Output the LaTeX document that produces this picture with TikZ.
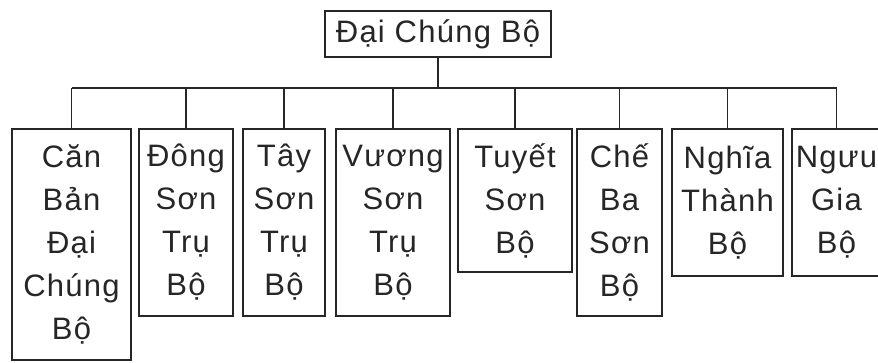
\documentclass[tikz,border=0pt]{standalone}
\usepackage{fontspec}
\setmainfont{Liberation Sans}[LetterSpace=4]
\begin{document}
\begin{tikzpicture}[x=1pt,y=-1pt,
  box/.style={draw=black!85, line width=1.5pt, inner xsep=0pt, inner ysep=0pt,
    align=center, font=\fontsize{31}{43}\selectfont, text=black!85},
  link/.style={draw=black!85, line width=1.5pt}]
\useasboundingbox[fill=white] (0,0) rectangle (878,362);
\clip (0,0) rectangle (878,362);
\node[box, minimum width=226, minimum height=46] (root) at (438,34) {Đại Chúng Bộ};
\node[box, minimum width=119, minimum height=231] (c1) at (71.5,244.5) {Căn\\Bản\\Đại\\Chúng\\Bộ};
\node[box, minimum width=94, minimum height=187] (c2) at (186,222.5) {Đông\\Sơn\\Trụ\\Bộ};
\node[box, minimum width=82, minimum height=187] (c3) at (284,222.5) {Tây\\Sơn\\Trụ\\Bộ};
\node[box, minimum width=114, minimum height=187] (c4) at (393,222.5) {Vương\\Sơn\\Trụ\\Bộ};
\node[box, minimum width=114, minimum height=143] (c5) at (515,200.5) {Tuyết\\Sơn\\Bộ};
\node[box, minimum width=85, minimum height=187] (c6) at (619.5,222.5) {Chế\\Ba\\Sơn\\Bộ};
\node[box, minimum width=111, minimum height=147] (c7) at (727.5,202.5) {Nghĩa\\Thành\\Bộ};
\node[box, minimum width=89, minimum height=147] (c8) at (836.5,202.5) {Ngưu\\Gia\\Bộ};
\coordinate (bus) at (0,88);
\draw[link] (root.south) -- (root.south |- bus);
\draw[link] (c1.north |- bus) -- (c8.north |- bus);
\foreach \i in {1,...,8} {\draw[link] (c\i.north) -- (c\i.north |- bus);}
\end{tikzpicture}
\end{document}
